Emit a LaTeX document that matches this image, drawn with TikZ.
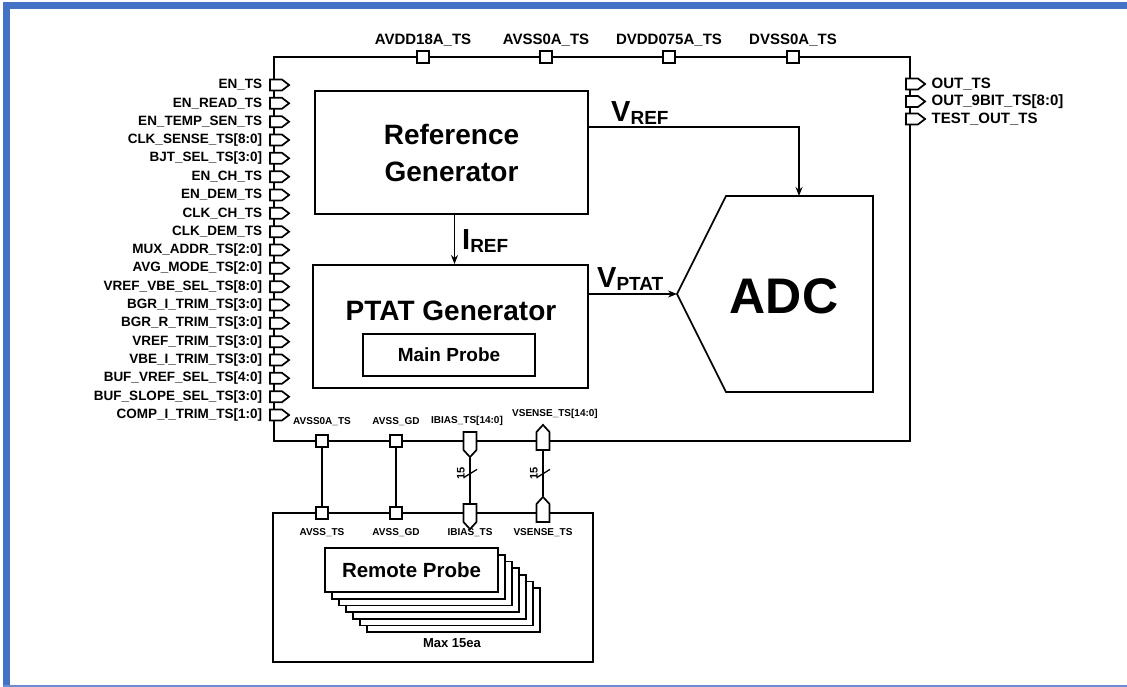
\documentclass[tikz,border=0pt]{standalone}
\usepackage{fontspec}
\setmainfont{Liberation Sans}
\usetikzlibrary{arrows.meta, positioning, calc, shapes.symbols}
\definecolor{FrameBlue}{HTML}{4472C4}

\begin{document}
\begin{tikzpicture}[x=1pt, y=-1pt,
    block/.style={rectangle, draw, line width=1.9pt, align=center, inner sep=0pt},
    pinR/.style={signal, signal to=east, signal pointer angle=75, draw, fill=white, line width=1.7pt, minimum width=19pt, minimum height=11pt, inner sep=0pt},
    pinD/.style={signal, signal to=south, signal pointer angle=85, draw, fill=white, line width=1.7pt, minimum width=13pt, minimum height=18pt, inner sep=0pt},
    pinU/.style={pinD, signal to=north},
    pinsq/.style={rectangle, draw, fill=white, line width=1.9pt, minimum size=12pt, inner sep=0pt},
    pinlbl/.style={inner sep=0pt, font=\bfseries\fontsize{13.5}{14}\selectfont},
    toplbl/.style={inner sep=0pt, font=\bfseries\fontsize{15}{16}\selectfont},
    smalllbl/.style={inner sep=0pt, font=\bfseries\fontsize{10}{11}\selectfont},
    sigtxt/.style={anchor=base west, inner sep=0pt, font=\bfseries\fontsize{29}{29}\selectfont},
    probe/.style={block, fill=white, minimum width=173pt, minimum height=44pt, line width=1.7pt},
    arrow/.style={-{Stealth[length=9pt, width=7pt]}, line width=1.5pt},
    wire/.style={line width=1.7pt}
]
\useasboundingbox (0,0) rectangle (1127,687);

% Frame
\draw[FrameBlue, line width=7pt] (6.5,690) -- (6.5,5.5) -- (1130,5.5);
\draw[FrameBlue!80, line width=2pt] (3,686) -- (1130,686);

% Sensor block
\node[block, line width=2.3pt, minimum width=636pt, minimum height=384pt] (chip) at (592,249) {};

% Supply pins (top)
\node[pinsq] (avdd) at (423,57) {};
\node[toplbl, above=4pt of avdd] (avddLbl) {AVDD18A\_TS};
\node[pinsq] (avss) at (546,57) {};
\node[toplbl, above=4pt of avss] (avssLbl) {AVSS0A\_TS};
\node[pinsq] (dvdd) at (669,57) {};
\node[toplbl, above=4pt of dvdd] (dvddLbl) {DVDD075A\_TS};
\node[pinsq] (dvss) at (793,57) {};
\node[toplbl, above=4pt of dvss] (dvssLbl) {DVSS0A\_TS};

% Control inputs (left)
\node[pinR] (enTs) at (276,85) {};
\node[pinlbl, left=7pt of enTs] (enTsLbl) {EN\_TS};
\node[pinR] (enRead) at (276,103.3) {};
\node[pinlbl, left=7pt of enRead] (enReadLbl) {EN\_READ\_TS};
\node[pinR] (enTemp) at (276,121.7) {};
\node[pinlbl, left=7pt of enTemp] (enTempLbl) {EN\_TEMP\_SEN\_TS};
\node[pinR] (clkSense) at (276,140) {};
\node[pinlbl, left=7pt of clkSense] (clkSenseLbl) {CLK\_SENSE\_TS[8:0]};
\node[pinR] (bjtSel) at (276,158.3) {};
\node[pinlbl, left=7pt of bjtSel] (bjtSelLbl) {BJT\_SEL\_TS[3:0]};
\node[pinR] (enCh) at (276,176.7) {};
\node[pinlbl, left=7pt of enCh] (enChLbl) {EN\_CH\_TS};
\node[pinR] (enDem) at (276,195) {};
\node[pinlbl, left=7pt of enDem] (enDemLbl) {EN\_DEM\_TS};
\node[pinR] (clkCh) at (276,213.3) {};
\node[pinlbl, left=7pt of clkCh] (clkChLbl) {CLK\_CH\_TS};
\node[pinR] (clkDem) at (276,231.7) {};
\node[pinlbl, left=7pt of clkDem] (clkDemLbl) {CLK\_DEM\_TS};
\node[pinR] (muxAddr) at (276,250) {};
\node[pinlbl, left=7pt of muxAddr] (muxAddrLbl) {MUX\_ADDR\_TS[2:0]};
\node[pinR] (avgMode) at (276,268.3) {};
\node[pinlbl, left=7pt of avgMode] (avgModeLbl) {AVG\_MODE\_TS[2:0]};
\node[pinR] (vrefVbe) at (276,286.7) {};
\node[pinlbl, left=7pt of vrefVbe] (vrefVbeLbl) {VREF\_VBE\_SEL\_TS[8:0]};
\node[pinR] (bgrI) at (276,305) {};
\node[pinlbl, left=7pt of bgrI] (bgrILbl) {BGR\_I\_TRIM\_TS[3:0]};
\node[pinR] (bgrR) at (276,323.3) {};
\node[pinlbl, left=7pt of bgrR] (bgrRLbl) {BGR\_R\_TRIM\_TS[3:0]};
\node[pinR] (vrefTrim) at (276,341.7) {};
\node[pinlbl, left=7pt of vrefTrim] (vrefTrimLbl) {VREF\_TRIM\_TS[3:0]};
\node[pinR] (vbeI) at (276,360) {};
\node[pinlbl, left=7pt of vbeI] (vbeILbl) {VBE\_I\_TRIM\_TS[3:0]};
\node[pinR] (bufVref) at (276,378.3) {};
\node[pinlbl, left=7pt of bufVref] (bufVrefLbl) {BUF\_VREF\_SEL\_TS[4:0]};
\node[pinR] (bufSlope) at (276,396.7) {};
\node[pinlbl, left=7pt of bufSlope] (bufSlopeLbl) {BUF\_SLOPE\_SEL\_TS[3:0]};
\node[pinR] (compI) at (276,415) {};
\node[pinlbl, left=7pt of compI] (compILbl) {COMP\_I\_TRIM\_TS[1:0]};

% Outputs (right)
\node[pinR] (outTs) at (912,84) {};
\node[toplbl, right=5pt of outTs] (outTsLbl) {OUT\_TS};
\node[pinR] (out9bit) at (912,101.5) {};
\node[toplbl, right=5pt of out9bit] (out9bitLbl) {OUT\_9BIT\_TS[8:0]};
\node[pinR] (testOut) at (912,119) {};
\node[toplbl, right=5pt of testOut] (testOutLbl) {TEST\_OUT\_TS};

% Inner blocks
\node[block, minimum width=273pt, minimum height=123pt, font=\bfseries\fontsize{28}{37}\selectfont] (refgen) at (451.5,152.5) {Reference\\Generator};
\node[block, minimum width=275pt, minimum height=123pt] (ptat) at (450.5,326.5) {};
\node[inner sep=0pt, font=\bfseries\fontsize{28}{30}\selectfont] (ptatLbl) at (451,311) {PTAT Generator};
\node[block, minimum width=172pt, minimum height=42pt, font=\bfseries\fontsize{19}{20}\selectfont] (mainprobe) at (449,355) {Main Probe};

% ADC
\draw[line width=1.7pt] (677,294) coordinate (adcIn) -- (726,196) -- (873,196) -- (873,392) -- (726,392) -- cycle;
\coordinate (adcTop) at (799,196);
\node[inner sep=0pt, font=\bfseries\fontsize{50}{50}\selectfont] (adc) at (784,296) {ADC};

% Signals
\draw[arrow] ([yshift=25.5pt]refgen.east) -| (adcTop);
\node[sigtxt] (vrefLbl) at (611,122) {V\raisebox{-3pt}{\fontsize{19}{19}\selectfont REF}};
\draw[arrow] ([xshift=3pt]refgen.south) -- ([xshift=3pt]refgen.south |- ptat.north);
\node[sigtxt] (irefLbl) at (462,249) {I\raisebox{-3pt}{\fontsize{19}{19}\selectfont REF}};
\draw[arrow] ([yshift=32.5pt]ptat.east) -- (adcIn);
\node[sigtxt] (vptatLbl) at (597,287) {V\raisebox{-3pt}{\fontsize{19}{19}\selectfont PTAT}};

% Remote probe pins (bottom)
\node[pinsq] (avss0aB) at (322,441) {};
\node[smalllbl, above=8pt of avss0aB] (avss0aBLbl) {AVSS0A\_TS};
\node[pinsq] (avssgdB) at (396,441) {};
\node[smalllbl, above=8pt of avssgdB] (avssgdBLbl) {AVSS\_GD};
\node[pinD] (ibiasB) at (470,441) {};
\node[smalllbl, above=5pt of ibiasB, xshift=-3pt] (ibiasBLbl) {IBIAS\_TS[14:0]};
\node[pinU] (vsenseB) at (543,441) {};
\node[smalllbl, above=5pt of vsenseB, xshift=12pt] (vsenseBLbl) {VSENSE\_TS[14:0]};

% Remote probe
\node[block, minimum width=320pt, minimum height=149pt] (remote) at (433,587.5) {};
\node[pinsq] (avssR) at (322,513) {};
\node[smalllbl] (avssRLbl) at (322,533) {AVSS\_TS};
\node[pinsq] (avssgdR) at (396,513) {};
\node[smalllbl] (avssgdRLbl) at (396,533) {AVSS\_GD};
\node[pinD] (ibiasR) at (470,513) {};
\node[smalllbl] (ibiasRLbl) at (470,533) {IBIAS\_TS};
\node[pinU] (vsenseR) at (543,513) {};
\node[smalllbl] (vsenseRLbl) at (543,533) {VSENSE\_TS};

\node[probe] (rp6) at (453.5,610.2) {};
\node[probe] (rp5) at (446.5,603.5) {};
\node[probe] (rp4) at (439.5,596.8) {};
\node[probe] (rp3) at (432.5,590.1) {};
\node[probe] (rp2) at (425.5,583.4) {};
\node[probe] (rp1) at (418.5,576.7) {};
\node[probe, font=\bfseries\fontsize{20.5}{21}\selectfont] (rp0) at (411.5,570) {Remote Probe};
\node[inner sep=0pt, font=\bfseries\fontsize{13}{14}\selectfont] (maxLbl) at (452,643) {Max 15ea};

% Links
\draw[wire] (avss0aB) -- (avssR);
\draw[wire] (avssgdB) -- (avssgdR);
\draw[wire] (ibiasB) -- (ibiasR);
\draw[wire] (vsenseB) -- (vsenseR);

% Bus width marks
\coordinate (ibM) at ($(ibiasB)!0.45!(ibiasR)$);
\coordinate (vsM) at ($(vsenseB)!0.45!(vsenseR)$);
\draw[line width=1.3pt] ([shift={(-6,4)}]ibM) -- ([shift={(7,-4)}]ibM);
\draw[line width=1.3pt] ([shift={(-6,4)}]vsM) -- ([shift={(7,-4)}]vsM);
\node[smalllbl, font=\bfseries\fontsize{11}{12}\selectfont, rotate=90, left=5pt of ibM, anchor=south] (ibW) {15};
\node[smalllbl, font=\bfseries\fontsize{11}{12}\selectfont, rotate=90, left=5pt of vsM, anchor=south] (vsW) {15};
\end{tikzpicture}
\end{document}
